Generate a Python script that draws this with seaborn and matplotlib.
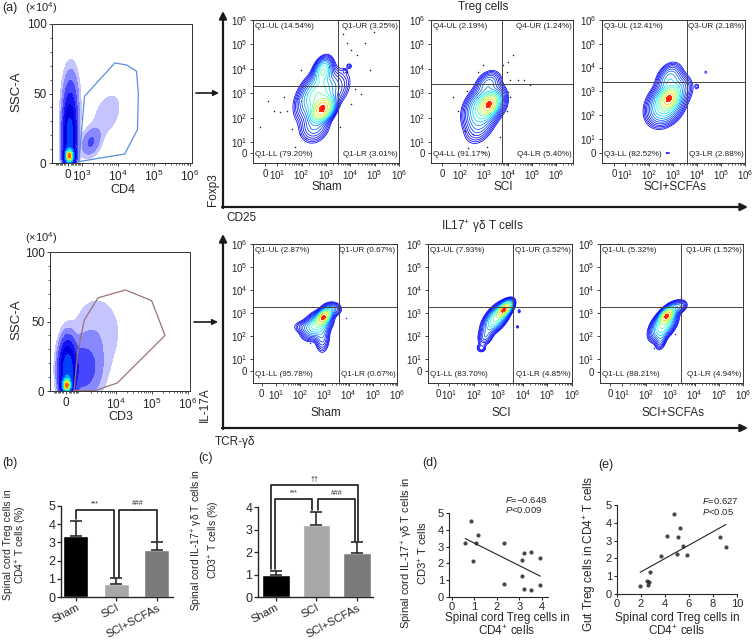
import numpy as np
import pandas as pd
import matplotlib
matplotlib.use("Agg")
import matplotlib.pyplot as plt
import seaborn as sns
from matplotlib.scale import SymmetricalLogTransform
from matplotlib.ticker import MultipleLocator, NullLocator

# ---------------- values ----------------
groups = ["Sham", "SCI", "SCI+SCFAs"]
treg_mean = [3.35, 0.72, 2.57]
treg_err = [0.85, 0.33, 0.45]
il17_mean = [0.97, 3.20, 1.97]
il17_err = [0.20, 0.60, 0.47]

d_treg = [0.59, 0.86, 0.92, 1.08, 1.16, 2.30, 2.30, 3.11, 3.11, 3.19, 3.19, 3.53, 3.53, 3.93, 3.93]
d_il17 = [3.24, 4.50, 2.14, 3.24, 3.70, 3.24, 0.76, 2.20, 1.26, 2.60, 0.50, 2.70, 0.44, 2.30, 0.70]
e_spinal = [1.93, 2.51, 2.59, 2.67, 2.72, 3.65, 4.18, 4.71, 5.05, 5.29, 5.03, 5.48, 5.85, 8.60, 9.07]
e_gut = [0.47, 0.75, 0.51, 0.66, 1.22, 2.14, 3.26, 4.50, 3.23, 3.73, 2.25, 2.68, 2.19, 3.23, 2.63]
d_stats = ["\u22120.648", "0.009"]
e_stats = ["0.627", "0.05"]

# quadrant percentages (UL, UR, LL, LR)
treg_gate = ["Q1", "Q4", "Q3"]
treg_ul = [14.54, 2.19, 12.41]
treg_ur = [3.25, 1.24, 2.18]
treg_ll = [79.20, 91.17, 82.52]
treg_lr = [3.01, 5.40, 2.88]
il17_gate = ["Q1", "Q1", "Q1"]
il17_ul = [2.87, 7.93, 5.32]
il17_ur = [0.67, 3.52, 1.52]
il17_ll = [95.78, 83.70, 88.21]
il17_lr = [0.67, 4.85, 4.94]
treg_cut_x = [3000, 5400, 3700]
treg_cut_y = [2000, 2300, 2400]
il17_cut_x = [4000, 4000, 2800]
il17_cut_y = [1900, 1900, 1900]

# gates on the SSC-A plots (x data, y in 1e4)
cd4_gate_x = [800, 1200, 8300, 17600, 33000, 37000, 35000, 15500, 800]
cd4_gate_y = [1, 48, 72, 70.5, 66, 50, 24, 6.5, 1]
cd3_gate_x = [590, 850, 1340, 3200, 18600, 98000, 230000, 11000, 2600, 590]
cd3_gate_y = [0.2, 27, 51, 67, 72.7, 65, 40, 5.8, 0.2, 0.2]

# population blobs: (x centre, y centre, x sd, y sd, corr, weight); sd in decades on log axes
cd4_pop = [(100, 5, 0.07, 3.0, 0, 1.0), (130, 20, 0.1, 14, 0, 0.25), (220, 45, 0.13, 14, 0, 0.03),
           (1800, 15, 0.16, 6, 0.3, 0.025), (5000, 35, 0.25, 10, 0.4, 0.008)]
cd3_pop = [(60, 4, 0.07, 3.0, 0, 1.0), (120, 15, 0.12, 11, 0, 0.32), (1200, 16, 0.3, 12, 0, 0.04),
           (3000, 42, 0.45, 18, 0, 0.008)]
treg_pop = [
    [(700, 230, 0.22, 0.24, 0.35, 1.0), (750, 8000, 0.18, 0.26, 0.3, 0.22), (450, 900, 0.38, 0.45, 0.45, 0.22),
     (350, 50, 0.3, 0.35, 0.2, 0.06), (3000, 1500, 0.3, 0.4, 0.4, 0.025), (9000, 13000, 0.07, 0.07, 0, 0.012),
     (6000, 8000, 0.06, 0.06, 0, 0.01), (83, 500, 0.06, 0.06, 0, 0.01)],
    [(1600, 350, 0.19, 0.22, 0.3, 1.0), (900, 250, 0.35, 0.4, 0.3, 0.25), (1500, 2500, 0.25, 0.25, 0.3, 0.07),
     (600, 40, 0.3, 0.35, 0.3, 0.04), (4000, 600, 0.2, 0.3, 0, 0.04)],
    [(690, 500, 0.19, 0.22, 0.3, 1.0), (500, 300, 0.35, 0.4, 0.3, 0.3), (700, 3500, 0.25, 0.3, 0.3, 0.1),
     (1500, 1500, 0.3, 0.3, 0, 0.07), (10000, 1600, 0.06, 0.08, 0, 0.012), (23000, 6300, 0.05, 0.06, 0, 0.01),
     (600, 0, 0.1, 0.04, 0, 0.01), (180, 500, 0.05, 0.05, 0, 0.01), (130, 170, 0.04, 0.04, 0, 0.008)],
]
il17_pop = [
    [(900, 650, 0.15, 0.17, 0.5, 1.0), (500, 300, 0.28, 0.28, 0.4, 0.18), (800, 100, 0.15, 0.35, 0, 0.05),
     (200, 250, 0.3, 0.15, 0, 0.03), (2000, 1500, 0.2, 0.15, 0, 0.05)],
    [(1700, 1400, 0.15, 0.17, 0.6, 1.0), (800, 600, 0.25, 0.3, 0.6, 0.25), (300, 100, 0.15, 0.2, 0.3, 0.05),
     (200, 30, 0.1, 0.1, 0, 0.025), (7000, 1200, 0.05, 0.08, 0, 0.01), (6000, 250, 0.05, 0.06, 0, 0.01)],
    [(700, 750, 0.15, 0.17, 0.5, 1.0), (500, 300, 0.25, 0.3, 0.5, 0.25), (400, 80, 0.12, 0.25, 0.3, 0.05),
     (1800, 1800, 0.2, 0.15, 0.3, 0.07)],
]
# single events outside the contours
treg_dots_x = [
    [5200, 7100, 11000, 39000, 98000, 18000, 62000, 7100, 15500, 28000, 11000, 3900, 2, 7, 18, 25, -4, 39, 83, 155, 98, 13, 52, 98, 1300],
    [575, 930, 190, 63, 91, 160, 355, 1290, 225, 930, 6300, 8900, 12000, 27000, 44000, 83000, 16600, 10200, 10200, 12000, 8900, 4700],
    [],
]
treg_dots_y = [
    [280000, 110000, 58000, 110000, 330000, 36000, 8700, 7400, 1500, 950, 370, 40, 500, 190, 690, 195, 40, 34, 21, 15, 500, 166, 5.7, 8700, 12000],
    [7400, 13800, 1290, 690, 195, 29, 21, 5.7, 4.3, 1.2, 13800, 7400, 3400, 3400, 3400, 2100, 36000, 19000, 1100, 690, 195, 15.5],
    [],
]
il17_dots_x = [[250, 8000], [], [200, 1500]]
il17_dots_y = [[50, 600], [], [30, 120]]

# ---------------- layout (pixels of the 756x643 canvas) ----------------
W, H = 756, 643
sns.set_theme(style="ticks")
plt.rcParams["font.family"] = ["Liberation Sans", "DejaVu Sans"]
plt.rcParams["mathtext.fontset"] = "custom"
plt.rcParams["mathtext.rm"] = "Liberation Sans"
plt.rcParams["mathtext.it"] = "Liberation Sans:italic"
plt.rcParams["axes.linewidth"] = 0.8

fig = plt.figure(figsize=(W / 100, H / 100), dpi=100)


def add_ax(l, t, r, b):
    return fig.add_axes([l / W, 1 - b / H, (r - l) / W, (b - t) / H])


def ftext(x, y, s, **kw):
    kw.setdefault("ha", "center")
    kw.setdefault("va", "center")
    fig.text(x / W, 1 - y / H, s, **kw)


def u_of(tf, lt, v):
    v = np.atleast_1d(np.asarray(v, float))
    return v if tf is None else tf.transform_non_affine(v) / lt


def v_of(tf, lt, u):
    u = np.atleast_1d(np.asarray(u, float))
    return u if tf is None else tf.inverted().transform_non_affine(u * lt)


def density(xs, ys, comps, n=240):
    xtf, xlt, xlo, xhi = xs
    ytf, ylt, ylo, yhi = ys
    ux = np.linspace(u_of(xtf, xlt, xlo)[0], u_of(xtf, xlt, xhi)[0], n)
    uy = np.linspace(u_of(ytf, ylt, ylo)[0], u_of(ytf, ylt, yhi)[0], n)
    UX, UY = np.meshgrid(ux, uy)
    D = np.zeros_like(UX)
    for xc, yc, sx, sy, r, w in comps:
        dx = (UX - u_of(xtf, xlt, xc)[0]) / sx
        dy = (UY - u_of(ytf, ylt, yc)[0]) / sy
        D += w * np.exp(-0.5 * (dx * dx - 2 * r * dx * dy + dy * dy) / (1 - r * r))
    return v_of(xtf, xlt, ux), v_of(ytf, ylt, uy), D / D.max()


def set_symlog(ax, which, lt, wdec, lo, hi, ticks, labels, minor):
    ls = 0.9 * wdec
    kw = dict(linthresh=lt, linscale=ls, base=10)
    if minor:
        kw["subs"] = list(range(2, 10))
    if which == "x":
        ax.set_xscale("symlog", **kw)
        ax.set_xlim(lo, hi)
        ax.set_xticks(ticks, labels)
        if not minor:
            ax.xaxis.set_minor_locator(NullLocator())
    else:
        ax.set_yscale("symlog", **kw)
        ax.set_ylim(lo, hi)
        ax.set_yticks(ticks, labels)
        if not minor:
            ax.yaxis.set_minor_locator(NullLocator())
    return (SymmetricalLogTransform(10, lt, ls), lt, lo, hi)


def dec_labels(ticks):
    return ["0" if t == 0 else "$10^{%d}$" % round(np.log10(t)) for t in ticks]


def style_box(ax, size=7.0):
    for s in ax.spines.values():
        s.set_visible(True)
        s.set_linewidth(0.7)
        s.set_color("#333333")
    ax.tick_params(which="major", direction="out", length=2.5, width=0.6, labelsize=size, pad=1.5)
    ax.tick_params(which="minor", direction="out", length=1.5, width=0.5)


jet = plt.get_cmap("jet")
fill_cols = ["#c4c4ff", "#8888ff", "#4646ff", "#1414f0", "#0000e0", "#0040ff", "#00a8ff", "#20f0e0", "#90ff60", "#ffe000", "#ff6000"]
fill_lev = [0.003, 0.008, 0.02, 0.045, 0.09, 0.17, 0.3, 0.45, 0.6, 0.75, 0.9, 1.01]
ring_pos = [0.11, 0.115, 0.12, 0.13, 0.15, 0.18, 0.22, 0.27, 0.33, 0.38, 0.45, 0.52, 0.6, 0.7, 0.84]


def ssc_panel(box, pop, gx, gy, gcol, xticks, xlabel_y, xlabel, lab_y):
    ax = add_ax(*box)
    xs = set_symlog(ax, "x", 1000, 0.38, -1150, 1.13e6, xticks, dec_labels(xticks), True)
    ax.set_ylim(0, 100)
    ax.set_yticks([0, 50, 100])
    ax.yaxis.set_minor_locator(MultipleLocator(10))
    X, Y, D = density(xs, (None, 1, 0, 100), pop)
    ax.contourf(X, Y, D, levels=fill_lev, colors=fill_cols)
    ax.plot(gx, gy, color=gcol, lw=0.9)
    style_box(ax, 8.5)
    l, t, r, b = box
    ftext(16, (t + b) / 2 - 2, "SSC-A", rotation=90, fontsize=9.5)
    ftext((l + r) / 2 + 1, xlabel_y, xlabel, fontsize=9)
    ftext(41, lab_y, "(\u00d710$^{4}$)", fontsize=8)
    return ax


def quad_panel(box, spec, pop, dots_x, dots_y, dot_col, cx, cy, name, pct, xlabel, xlabel_y):
    ax = add_ax(*box)
    xlt, xw, xlo, xhi, xt, ywd, ylo = spec
    xs = set_symlog(ax, "x", xlt, xw, xlo, xhi, xt, dec_labels(xt), True)
    yt = [0, 10, 100, 1000, 1e4, 1e5, 1e6]
    ys = set_symlog(ax, "y", 10, ywd, ylo, 1e6, yt, dec_labels(yt), False)
    X, Y, D = density(xs, ys, pop)
    levels = np.geomspace(0.006, 0.88, len(ring_pos))
    ax.contour(X, Y, D, levels=levels, colors=jet(ring_pos), linewidths=0.55)
    ax.contourf(X, Y, D, levels=[0.88, 1.01], colors=["#ff1a00"])
    if dots_x:
        ax.scatter(dots_x, dots_y, s=1.2, color=dot_col, linewidths=0)
    ax.axvline(cx, color="#444444", lw=0.7)
    ax.axhline(cy, color="#444444", lw=0.7)
    tk = dict(fontsize=5.9, transform=ax.transAxes, color="#222222")
    ax.text(0.015, 0.955, f"{name}-UL ({pct[0]:.2f}%)", ha="left", va="center", **tk)
    ax.text(0.99, 0.955, f"{name}-UR ({pct[1]:.2f}%)", ha="right", va="center", **tk)
    ax.text(0.015, 0.06, f"{name}-LL ({pct[2]:.2f}%)", ha="left", va="center", **tk)
    ax.text(0.99, 0.06, f"{name}-LR ({pct[3]:.2f}%)", ha="right", va="center", **tk)
    style_box(ax, 7.0)
    l, t, r, b = box
    ftext((l + r) / 2 + 1, xlabel_y, xlabel, fontsize=8.5)
    return ax


# ---- flow panels ----
ssc_panel((52, 24, 192, 163), cd4_pop, cd4_gate_x, cd4_gate_y, "#5a8ee0",
          [0, 1000, 1e4, 1e5, 1e6], 190, "CD4", 8)
ssc_panel((50, 252, 190, 391), cd3_pop, cd3_gate_x, cd3_gate_y, "#9c7373",
          [0, 1e4, 1e5, 1e6], 417, "CD3", 238)

full = [0, 10, 100, 1000, 1e4, 1e5, 1e6]
treg_spec = [(10, 0.50, -10, 1e6, full, 0.45, -9),
             (100, 0.75, -61, 5e6, [0, 100, 1000, 1e4, 1e5, 1e6], 0.45, -9),
             (10, 0.46, -11, 1e6, full, 0.60, -7)]
treg_box = [(253, 20, 399, 163), (431, 20, 573, 163), (602, 20, 745, 163)]
il17_spec = [(10, 0.60, -6, 1e6, full, 0.52, -10),
             (10, 0.46, -9, 1e6, full, 0.52, -10),
             (10, 0.50, -8.5, 1e6, full, 0.55, -9)]
il17_box = [(253, 244, 397, 383), (428, 244, 572, 383), (600, 244, 743, 383)]

for i in range(3):
    quad_panel(treg_box[i], treg_spec[i], treg_pop[i], treg_dots_x[i], treg_dots_y[i], "#222222",
               treg_cut_x[i], treg_cut_y[i], treg_gate[i],
               [treg_ul[i], treg_ur[i], treg_ll[i], treg_lr[i]], groups[i], 187)
    quad_panel(il17_box[i], il17_spec[i], il17_pop[i], il17_dots_x[i], il17_dots_y[i], "#2030ff",
               il17_cut_x[i], il17_cut_y[i], il17_gate[i],
               [il17_ul[i], il17_ur[i], il17_ll[i], il17_lr[i]], groups[i], 413)

ftext(483, 7, "Treg cells", fontsize=8.5)
ftext(482, 227, "IL17$^{+}$ \u03b3\u03b4 T cells", fontsize=8.5)
ftext(213, 190, "Foxp3", rotation=90, fontsize=8.5)
ftext(226, 218, "CD25", fontsize=8.5, ha="left")
ftext(205, 405, "IL-17A", rotation=90, fontsize=8.5)
ftext(215, 442, "TCR-\u03b3\u03b4", fontsize=8.5, ha="left")

# overlay for arrows
ov = fig.add_axes([0, 0, 1, 1], zorder=-5)
ov.set_xlim(0, W)
ov.set_ylim(H, 0)
ov.axis("off")
ap = dict(arrowstyle="-|>", color="k", lw=1.6, mutation_scale=11, shrinkA=0, shrinkB=0)
ov.annotate("", xy=(223, 11), xytext=(223, 208), arrowprops=ap)
ov.annotate("", xy=(748, 207), xytext=(222, 207), arrowprops=ap)
ov.annotate("", xy=(223, 234), xytext=(223, 429), arrowprops=ap)
ov.annotate("", xy=(748, 428), xytext=(222, 428), arrowprops=ap)
sp = dict(arrowstyle="-|>", color="k", lw=1.2, mutation_scale=8, shrinkA=0, shrinkB=0)
ov.annotate("", xy=(219, 93), xytext=(196, 93), arrowprops=sp)
ov.annotate("", xy=(218, 322), xytext=(194, 322), arrowprops=sp)

# panel letters
ftext(2, 8, "(a)", fontsize=9, ha="left")
ftext(2, 463, "(b)", fontsize=9, ha="left")
ftext(198, 458, "(c)", fontsize=9, ha="left")
ftext(422, 463, "(d)", fontsize=9, ha="left")
ftext(598, 465, "(e)", fontsize=9, ha="left")

bar_colors = ["#000000", "#a8a8a8", "#7b7b7b"]


def bar_panel(box, mean, err, ylim, yticks, width, xlim):
    ax = add_ax(*box)
    df = pd.DataFrame({"group": groups, "value": mean})
    sns.barplot(data=df, x="group", y="value", hue="group", palette=bar_colors,
                width=width, errorbar=None, legend=False, ax=ax)
    ax.errorbar(range(3), mean, yerr=[[0, 0, 0], err], fmt="none", ecolor="k",
                elinewidth=1.1, capsize=4.5, capthick=1.1)
    ax.set_ylim(*ylim)
    ax.set_xlim(*xlim)
    ax.set_yticks(yticks)
    ax.spines["left"].set_bounds(0, yticks[-1])
    sns.despine(ax=ax)
    for s in ["left", "bottom"]:
        ax.spines[s].set_linewidth(1.0)
    ax.tick_params(axis="y", labelsize=9, length=3, width=0.9, pad=1)
    ax.tick_params(axis="x", labelsize=8, length=3, width=0.9, pad=1)
    ax.set_xticks(range(3), groups, rotation=28, ha="right", rotation_mode="anchor")
    ax.set_xlabel("")
    ax.set_ylabel("")
    return ax


def bracket(ax, x1, x2, y, low1, low2, txt, ty):
    ax.plot([x1, x1, x2, x2], [low1, y, y, low2], color="k", lw=1.2, clip_on=False)
    ax.text((x1 + x2) / 2, ty, txt, ha="center", va="center", fontsize=5, clip_on=False)


lab2 = dict(rotation=90, linespacing=1.15, multialignment="center")

axb = bar_panel((61, 506, 173, 597), treg_mean, treg_err, (0, 5), [0, 1, 2, 3, 4, 5], 0.62, (-0.37, 2.4))
bracket(axb, 0, 0.94, 4.78, 4.3, 1.12, "***", 5.12)
bracket(axb, 1.06, 2.0, 4.78, 1.12, 3.1, "###", 5.12)
ftext(16, 545, "Spinal cord Treg cells in\nCD4$^{+}$ T cells (%)", fontsize=7.5, **lab2)

axc = bar_panel((258, 478, 373, 597), il17_mean, il17_err, (0, 5.3), [0, 1, 2, 3, 4], 0.68, (-0.44, 2.4))
bracket(axc, -0.02, 0.9, 4.36, 1.25, 3.88, "***", 4.62)
bracket(axc, 1.05, 1.95, 4.36, 3.88, 2.5, "###", 4.62)
bracket(axc, -0.12, 2.02, 4.98, 1.25, 2.5, "\u2020\u2020", 5.22)
ftext(206, 540, "Spinal cord IL-17$^{+}$ \u03b3\u03b4 T cells in\nCD3$^{+}$ T cells (%)", fontsize=7.5, **lab2)


def corr_panel(box, x, y, xlim, xticks, ylim, stats, txy):
    ax = add_ax(*box)
    sns.regplot(x=x, y=y, ci=None, ax=ax, truncate=True,
                scatter_kws=dict(s=9, color="k", linewidths=0),
                line_kws=dict(color="#222222", lw=0.8))
    ax.set_xlim(*xlim)
    ax.set_ylim(*ylim)
    ax.set_xticks(xticks)
    ax.set_yticks(range(6))
    sns.despine(ax=ax)
    ax.tick_params(labelsize=8, length=2.5, width=0.8, pad=1)
    ax.text(txy[0], txy[1], "$\\mathit{F}$=" + stats[0], fontsize=6.8, ha="left", va="center", clip_on=False)
    ax.text(txy[0], txy[2], "$\\mathit{P}$<" + stats[1], fontsize=6.8, ha="left", va="center", clip_on=False)
    return ax


corr_panel((449, 513, 548, 597), d_treg, d_il17, (-0.13, 4.27), [0, 1, 2, 3, 4], (0, 5), d_stats, (2.35, 5.75, 5.15))
ftext(415, 553, "Spinal cord IL-17$^{+}$ \u03b3\u03b4 T cells in\nCD3$^{+}$ T cells", fontsize=8, **lab2)
ftext(507, 625, "Spinal cord Treg cells in\nCD4$^{+}$ cells", fontsize=8.5, linespacing=1.1)

corr_panel((617, 505, 737, 594), e_spinal, e_gut, (0, 10), [0, 2, 4, 6, 8, 10], (0, 5), e_stats, (7.1, 5.25, 4.6))
ftext(590, 554, "Gut Treg cells in CD4$^{+}$ T cells", rotation=90, fontsize=8.5)
ftext(677, 625, "Spinal cord Treg cells in\nCD4$^{+}$ cells", fontsize=8.5, linespacing=1.1)

fig.savefig("out.png", dpi=100)
